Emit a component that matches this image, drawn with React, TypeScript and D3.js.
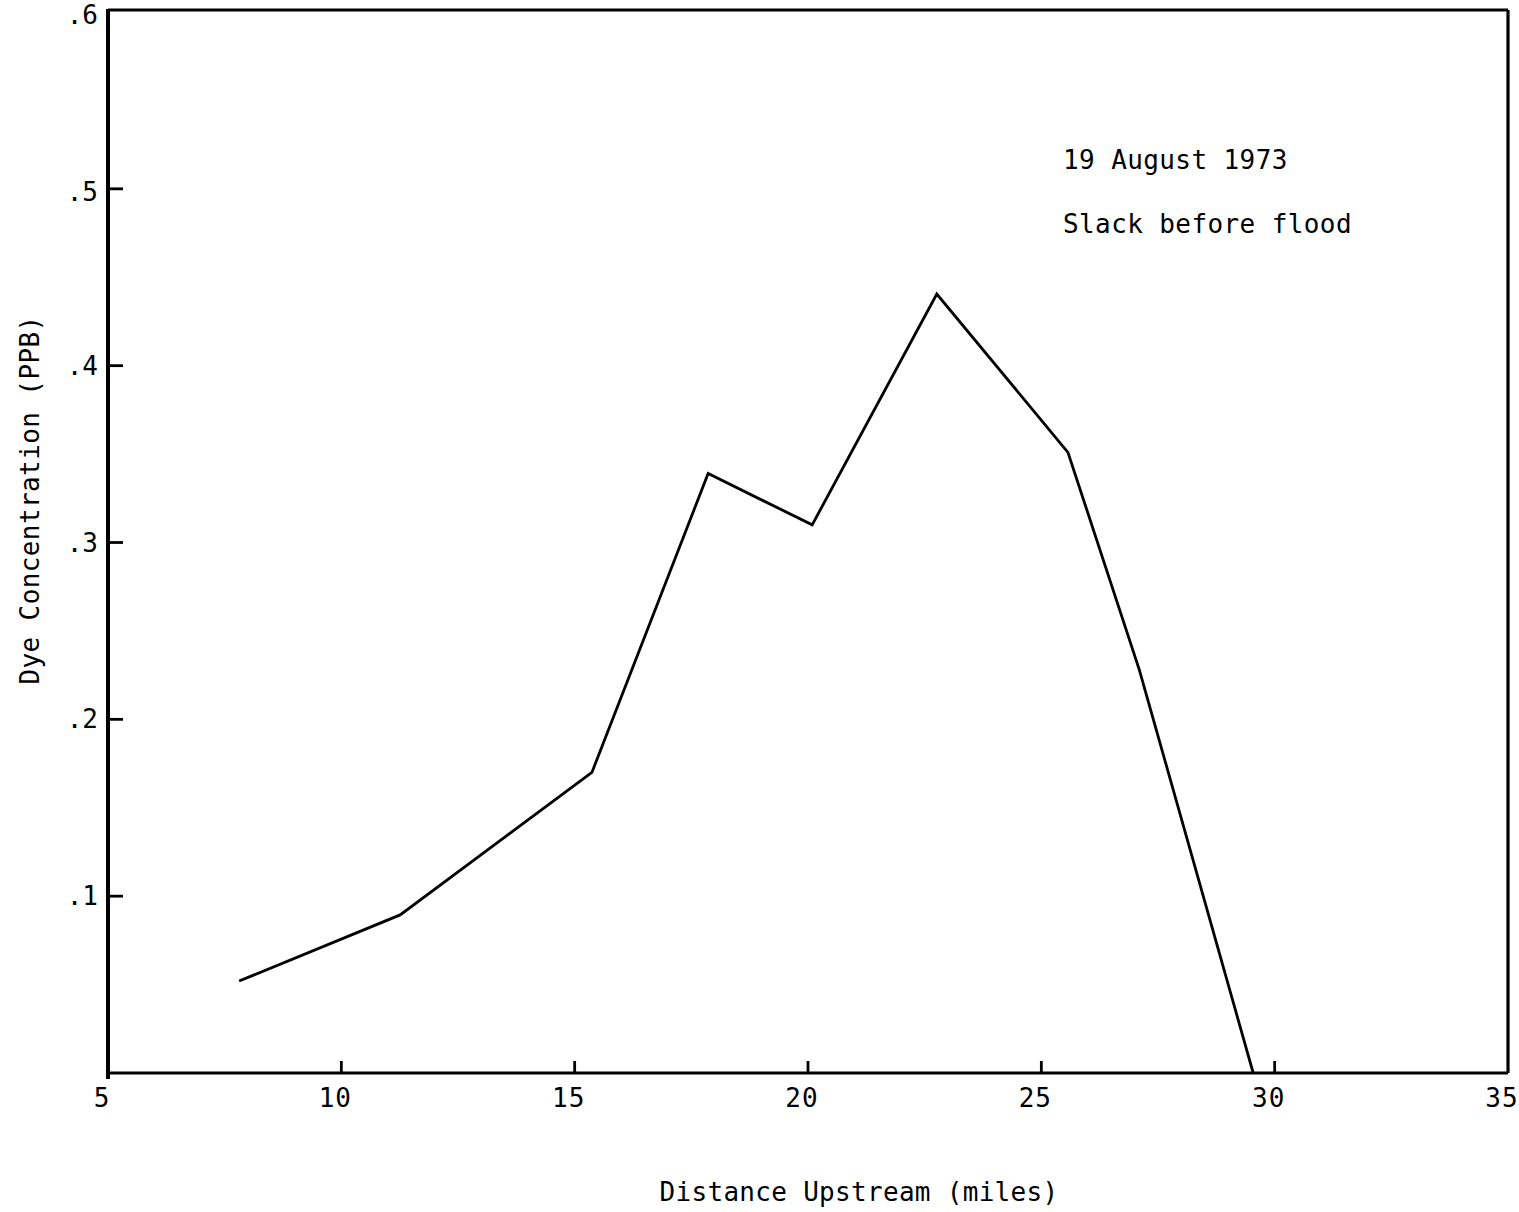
import React from "react";
import * as d3 from "d3";

const distances = [7.81, 11.26, 15.37, 17.86, 20.09, 22.76, 25.57, 27.1, 29.54];
const concentrations = [0.052, 0.0894, 0.17, 0.339, 0.31, 0.4405, 0.351, 0.228, 0.0];
const xTicks = [5, 10, 15, 20, 25, 30, 35];
const yTicks = [0.1, 0.2, 0.3, 0.4, 0.5, 0.6];
const yTickLabels = [".1", ".2", ".3", ".4", ".5", ".6"];
const annotations = ["19 August 1973", "Slack before flood"];
const xTitle = "Distance Upstream (miles)";
const yTitle = "Dye Concentration (PPB)";

const W = 1519;
const H = 1212;
const FONT = "'DejaVu Sans Mono', 'Liberation Mono', monospace";

export default function App() {
  const x = d3.scaleLinear().domain([5, 35]).range([108, 1508]);
  const y = d3.scaleLinear().domain([0, 0.6]).range([1073, 12]);
  const pts = distances.map((d, i) => [d, concentrations[i]] as [number, number]);
  const line = d3
    .line<[number, number]>()
    .x((d) => x(d[0]))
    .y((d) => y(d[1]));

  const top = 10;
  const bottom = y(0);
  const left = x(5);
  const right = x(35);

  return (
    <svg
      width={W}
      height={H}
      style={{ position: "absolute", left: 0, top: 0, background: "#fff" }}
      fontFamily={FONT}
    >
      <rect x={0} y={0} width={W} height={H} fill="#fff" />
      {/* frame */}
      <line x1={left} y1={top} x2={right} y2={top} stroke="#000" strokeWidth={3} />
      <line x1={right} y1={top} x2={right} y2={bottom} stroke="#000" strokeWidth={3.2} />
      <line x1={left} y1={bottom} x2={right} y2={bottom} stroke="#000" strokeWidth={3.2} />
      <line x1={left} y1={top - 1} x2={left} y2={bottom + 6} stroke="#000" strokeWidth={4} />

      {/* x ticks */}
      {xTicks.map((t) => (
        <g key={"xt" + t}>
          {t > 5 && t < 35 && (
            <line x1={x(t)} y1={bottom} x2={x(t)} y2={bottom - 12} stroke="#000" strokeWidth={2.8} />
          )}
          <text x={x(t) - 6} y={1107} textAnchor="middle" fontSize={26} fill="#000" letterSpacing={1}>
            {t}
          </text>
        </g>
      ))}

      {/* y ticks */}
      {yTicks.map((t, i) => (
        <g key={"yt" + t}>
          {t < 0.6 && (
            <line x1={left} y1={y(t)} x2={left + 15} y2={y(t)} stroke="#000" strokeWidth={2.8} />
          )}
          <text
            x={98}
            y={y(t) + (t >= 0.5 ? 12 : 9)}
            textAnchor="end"
            fontSize={26}
            fill="#000"
          >
            {yTickLabels[i]}
          </text>
        </g>
      ))}

      {/* data line */}
      <path d={line(pts) || ""} fill="none" stroke="#000" strokeWidth={2.8} strokeLinejoin="miter" />

      {/* annotations */}
      <text x={1063} y={169} fontSize={26} fill="#000" letterSpacing={0.4}>
        {annotations[0]}
      </text>
      <text x={1063} y={233} fontSize={26} fill="#000" letterSpacing={0.4}>
        {annotations[1]}
      </text>

      {/* axis titles */}
      <text x={859} y={1201} textAnchor="middle" fontSize={26} fill="#000" letterSpacing={0.3}>
        {xTitle}
      </text>
      <text
        transform="translate(39,500) rotate(-90)"
        textAnchor="middle"
        fontSize={26}
        fill="#000"
        letterSpacing={0.4}
      >
        {yTitle}
      </text>
    </svg>
  );
}
